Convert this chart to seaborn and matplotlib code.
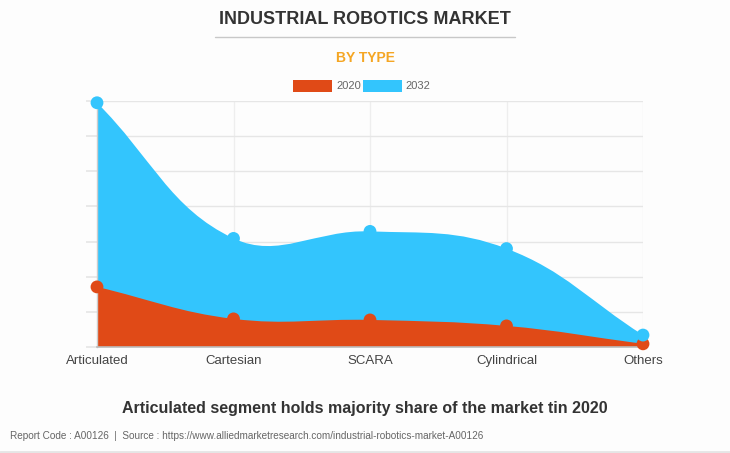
import numpy as np
import pandas as pd
import matplotlib
matplotlib.use("Agg")
import matplotlib.pyplot as plt
from matplotlib.path import Path
from matplotlib.patches import PathPatch, Rectangle
from matplotlib import font_manager
import seaborn as sns

categories = ["Articulated", "Cartesian", "SCARA", "Cylindrical", "Others"]
values_2020 = [1.71, 0.80, 0.77, 0.60, 0.09]
values_2032 = [6.95, 3.09, 3.29, 2.80, 0.34]
series_names = ["2020", "2032"]
colors = {"2020": "#E04A17", "2032": "#33C5FD"}

sns.set_theme(style="white")
names = {f.name for f in font_manager.fontManager.ttflist}
base = "Liberation Sans" if "Liberation Sans" in names else "DejaVu Sans"
narrow = "Liberation Sans Narrow" if "Liberation Sans Narrow" in names else base
plt.rcParams["font.family"] = [base, "DejaVu Sans"]

W, H = 730, 453
fig = plt.figure(figsize=(W / 100, H / 100), dpi=100, facecolor="#fdfdfd")
x0, x1, y0, y1 = 97, 643, 101, 347
ax = fig.add_axes([x0 / W, 1 - y1 / H, (x1 - x0) / W, (y1 - y0) / H])
ax.set_facecolor("#fdfdfd")

ymax = 7
xs = np.arange(len(categories))
px_x = (x1 - x0) / (len(categories) - 1)
px_y = (y1 - y0) / ymax


def spline_path(xv, yv, tension=0.4):
    pts = np.column_stack([xv, yv]).astype(float)
    scale = np.array([px_x, px_y])
    n = len(pts)
    cps = []
    for i in range(n):
        prev = pts[i - 1] if i > 0 else pts[i]
        nxt = pts[i + 1] if i < n - 1 else pts[i]
        cur = pts[i]
        d01 = np.linalg.norm((cur - prev) * scale)
        d12 = np.linalg.norm((nxt - cur) * scale)
        tot = d01 + d12 if d01 + d12 > 0 else 1
        fa = tension * d01 / tot
        fb = tension * d12 / tot
        cps.append((cur - fa * (nxt - prev), cur + fb * (nxt - prev)))
    verts = [(pts[0][0], 0), tuple(pts[0])]
    codes = [Path.MOVETO, Path.LINETO]
    for i in range(n - 1):
        verts += [tuple(cps[i][1]), tuple(cps[i + 1][0]), tuple(pts[i + 1])]
        codes += [Path.CURVE4] * 3
    verts += [(pts[-1][0], 0), (pts[0][0], 0)]
    codes += [Path.LINETO, Path.CLOSEPOLY]
    return Path(verts, codes)


for name, vals in [("2032", values_2032), ("2020", values_2020)]:
    ax.add_patch(PathPatch(spline_path(xs, vals), facecolor=colors[name],
                           edgecolor="none", zorder=2))

df = pd.DataFrame({
    "category": categories * 2,
    "x": list(xs) * 2,
    "value": values_2020 + values_2032,
    "year": ["2020"] * 5 + ["2032"] * 5,
})
sns.scatterplot(data=df, x="x", y="value", hue="year", palette=colors,
                s=85, linewidth=0, legend=False, ax=ax, zorder=5)
for coll in ax.collections:
    coll.set_clip_on(False)

ax.set_xlim(0, len(categories) - 1)
ax.set_ylim(0, ymax)
ax.set_xticks(xs)
ax.set_xticklabels(categories, fontsize=9.5, color="#444444")
ax.set_yticks(np.arange(0, ymax + 1))
ax.set_yticklabels([])
ax.set_xlabel("")
ax.set_ylabel("")
ax.grid(True, axis="y", color="#e6e6e6", lw=1, zorder=0)
ax.grid(True, axis="x", color="#eeeeee", lw=1, zorder=0)
ax.tick_params(axis="y", length=8, color="#e6e6e6", left=True)
ax.tick_params(axis="x", length=0, pad=6)
for s in ["top", "right"]:
    ax.spines[s].set_visible(False)
ax.spines["left"].set_color("#cccccc")
ax.spines["bottom"].set_color("#bbbbbb")
ax.spines["left"].set_linewidth(1)
ax.spines["bottom"].set_linewidth(1.2)
ax.spines["left"].set_zorder(4)
ax.spines["bottom"].set_zorder(4)

fig.text(365 / W, 1 - 20 / H, "INDUSTRIAL ROBOTICS MARKET", ha="center", va="center",
         fontsize=13, fontweight="heavy", color="#333333")
fig.add_artist(plt.Line2D([215 / W, 515 / W], [1 - 37 / H, 1 - 37 / H],
                          color="#c8c8c8", lw=1))
fig.text(365 / W, 1 - 58 / H, "BY TYPE", ha="center", va="center",
         fontsize=10, fontweight="bold", color="#F5A623")

legend_items = [(293, 336, "2020"), (363, 405, "2032")]
for bx, tx, name in legend_items:
    fig.add_artist(Rectangle((bx / W, 1 - 92 / H), 39 / W, 12 / H,
                             transform=fig.transFigure, facecolor=colors[name],
                             edgecolor="none"))
    fig.text(tx / W, 1 - 86 / H, name, ha="left", va="center",
             fontsize=8, color="#666666")

fig.text(365 / W, 1 - 408 / H,
         "Articulated segment holds majority share of the market tin 2020",
         ha="center", va="center", fontsize=11.5, fontweight="bold",
         color="#333333", family=[narrow, "DejaVu Sans"])
fig.text(10 / W, 1 - 436 / H,
         "Report Code : A00126  |  Source : https://www.alliedmarketresearch.com/industrial-robotics-market-A00126",
         ha="left", va="center", fontsize=7.2, color="#666666",
         family=[narrow, "DejaVu Sans"])
fig.add_artist(plt.Line2D([0, 1], [1.5 / H, 1.5 / H], color="#e5e5e5", lw=2))

fig.savefig("out.png", dpi=100, facecolor=fig.get_facecolor())
